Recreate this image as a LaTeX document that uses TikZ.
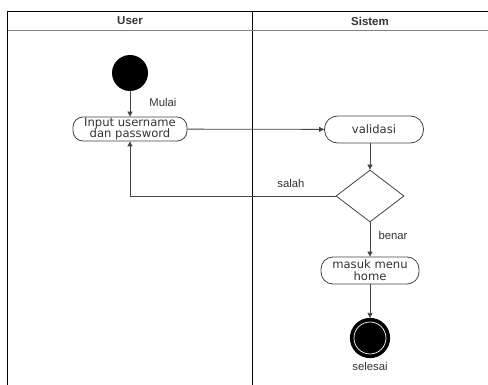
\documentclass[tikz,border=0pt]{standalone}
\usepackage{fontspec}
\setmainfont{Liberation Sans}
\newfontfamily\nodefont{DejaVu Sans}
\usetikzlibrary{shapes.geometric,arrows.meta}
\definecolor{edgegray}{HTML}{444444}
\definecolor{txtgray}{HTML}{333333}
\tikzset{
  lane/.style={draw=black, line width=0.9pt},
  act/.style={draw=edgegray, line width=0.8pt, rounded corners=10pt, fill=white,
    font=\nodefont\fontsize{11.6}{11.8}\selectfont, text=txtgray, align=center, inner sep=0pt},
  flow/.style={draw=edgegray, line width=0.8pt, -{Triangle[length=5pt,width=5pt]}},
  lbl/.style={font=\fontsize{11.3}{12}\selectfont, text=txtgray},
  hdr/.style={font=\bfseries\fontsize{11.5}{12}\selectfont, text=txtgray}
}
\begin{document}
\begin{tikzpicture}[x=1pt,y=-1pt]
\useasboundingbox (0,0) rectangle (488,385);
% swimlane frame
\draw[lane] (7.5,385) -- (7.5,11.5) -- (488,11.5);
\draw[lane] (252,11.5) -- (252,385);
\draw[draw=gray, line width=1.6pt] (7.5,30.5) -- (488,30.5);
\node[hdr] (huser) at (130,21) {User};
\node[hdr] (hsis) at (370,21) {Sistem};
% activity nodes
\node[circle, fill=black, minimum size=36pt, inner sep=0pt] (start) at (130,73) {};
\node[act, minimum width=114pt, minimum height=24pt] (input) at (130,129) {Input username\\dan password};
\node[act, minimum width=99pt, minimum height=27pt, rounded corners=13pt] (valid) at (374,129.5) {validasi};
\node[diamond, draw=edgegray, line width=0.8pt, fill=white, minimum width=68pt, minimum height=52pt, inner sep=0pt] (dec) at (370,196) {};
\node[act, minimum width=98pt, minimum height=27pt, rounded corners=12pt] (home) at (370,270.5) {masuk menu\\home};
\node[circle, fill=black, draw=black, line width=1.2pt, minimum size=39pt, inner sep=0pt,
  path picture={\draw[white, line width=0.7pt] (path picture bounding box.center) circle (16pt);}] (end) at (370,338) {};
% labels
\node[lbl] (lmulai) at (163,102) {Mulai};
\node[lbl] (lsalah) at (291,183) {salah};
\node[lbl] (lbenar) at (393,235) {benar};
\node[lbl] (lsel) at (370,366) {selesai};
% connectors
\draw[flow] (start) -- (input);
\draw[flow] (input) -- (valid);
\draw[flow] (dec.north |- valid.south) -- (dec.north);
\draw[flow] (dec.west) -| (input.south);
\draw[flow] (dec) -- (home);
\draw[flow] (home) -- (end);
\end{tikzpicture}
\end{document}
